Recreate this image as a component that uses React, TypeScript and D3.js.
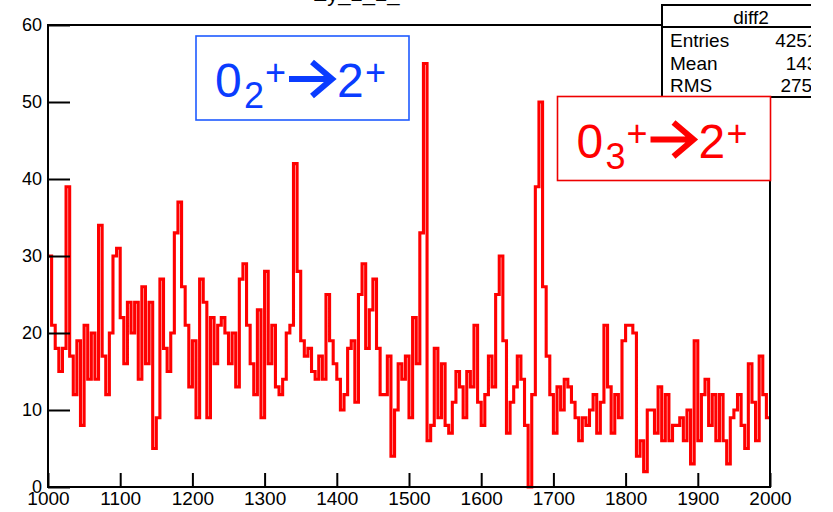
import { useEffect, useRef } from "react";
import * as d3 from "d3";

// histogram range, 5 keV bins
const xMin = 1000;
const xMax = 2000;
const binWidth = 5;
const yMax = 60;

// bin contents, one array per 100 keV
const counts1000 = [30, 21, 18, 15, 18, 39, 17, 12, 19, 8, 21, 14, 20, 14, 34, 17, 12, 20, 30, 31];
const counts1100 = [22, 16, 24, 20, 24, 14, 26, 16, 24, 5, 9, 27, 18, 15, 20, 33, 37, 26, 21, 13];
const counts1200 = [19, 9, 27, 24, 9, 22, 16, 21, 22, 20, 16, 20, 13, 27, 29, 21, 16, 12, 23, 9];
const counts1300 = [28, 16, 21, 13, 12, 14, 20, 21, 42, 28, 19, 17, 18, 15, 14, 17, 14, 25, 19, 16];
const counts1400 = [14, 10, 12, 18, 19, 11, 25, 29, 18, 23, 27, 18, 12, 12, 17, 4, 10, 16, 14, 17];
const counts1500 = [9, 22, 16, 33, 55, 6, 8, 18, 9, 16, 8, 7, 11, 15, 13, 9, 15, 13, 21, 11];
const counts1600 = [8, 12, 17, 13, 25, 30, 19, 7, 11, 13, 17, 14, 8, 0, 12, 39, 50, 26, 17, 12];
const counts1700 = [7, 13, 10, 14, 13, 11, 9, 6, 9, 8, 10, 12, 7, 11, 21, 13, 7, 12, 9, 19];
const counts1800 = [21, 21, 20, 4, 6, 2, 10, 10, 7, 13, 6, 12, 6, 8, 8, 9, 6, 10, 3, 19];
const counts1900 = [6, 12, 14, 8, 12, 6, 12, 6, 3, 9, 10, 12, 8, 5, 16, 11, 6, 17, 12, 9];

const binCounts = [
  ...counts1000, ...counts1100, ...counts1200, ...counts1300, ...counts1400,
  ...counts1500, ...counts1600, ...counts1700, ...counts1800, ...counts1900,
];

const xMajorTicks = [1000, 1100, 1200, 1300, 1400, 1500, 1600, 1700, 1800, 1900, 2000];
const yMajorTicks = [0, 10, 20, 30, 40, 50, 60];

const histTitle = "Ey_2_2_";
const statsTitle = "diff2";
const statsLabels = ["Entries", "Mean", "RMS"];
const statsValues = ["42516", "1437", "275.6"];

const W = 833;
const H = 512;
const FONT = "'Liberation Sans', Arial, Helvetica, sans-serif";

function Histogram() {
  const ref = useRef<SVGSVGElement>(null);

  useEffect(() => {
    const svg = d3.select(ref.current);
    svg.selectAll("*").remove();

    const x = d3.scaleLinear().domain([xMin, xMax]).range([48, 770]);
    const y = d3.scaleLinear().domain([0, yMax]).range([487, 25]);

    svg.append("rect").attr("width", W).attr("height", H).attr("fill", "#fff");

    // title, mostly above the top edge of the picture
    svg.append("text")
      .attr("x", 356).attr("y", 1)
      .attr("text-anchor", "middle")
      .style("font-family", FONT).style("font-size", "22px")
      .text(histTitle);

    // histogram outline
    const pts: [number, number][] = [];
    binCounts.forEach((c, i) => {
      const lo = xMin + i * binWidth;
      pts.push([lo, c], [lo + binWidth, c]);
    });
    const line = d3.line<[number, number]>().x(d => x(d[0])).y(d => y(d[1]));
    svg.append("path")
      .attr("d", line(pts))
      .attr("fill", "none")
      .attr("stroke", "#ff0000")
      .attr("stroke-width", 3.1)
      .attr("stroke-linejoin", "miter");

    // axes, ticks pointing inwards like ROOT
    const xMinor = d3.range(xMin, xMax + 1, 20);
    const yMinor = d3.range(0, yMax + 1, 2);

    const gx = svg.append("g").attr("transform", "translate(0,487)");
    gx.call(d3.axisBottom(x).tickValues(xMinor).tickSize(-7).tickFormat(() => ""));
    gx.call(d3.axisBottom(x).tickValues(xMajorTicks).tickSize(-14).tickPadding(5).tickFormat(d3.format("d")));

    const gy = svg.append("g").attr("transform", "translate(48,0)");
    gy.call(d3.axisLeft(y).tickValues(yMinor).tickSize(-11).tickFormat(() => ""));
    gy.call(d3.axisLeft(y).tickValues(yMajorTicks).tickSize(-22).tickPadding(6).tickFormat(d3.format("d")));

    svg.selectAll(".domain").remove();
    svg.selectAll(".tick line").attr("stroke", "#000").attr("stroke-width", 2);
    svg.selectAll(".tick text")
      .attr("fill", "#000")
      .style("font-family", FONT)
      .style("font-size", "18px");
    gx.selectAll(".tick text").style("font-size", "19px");

    // frame
    svg.append("rect")
      .attr("x", 48).attr("y", 25)
      .attr("width", 722).attr("height", 462)
      .attr("fill", "none").attr("stroke", "#000").attr("stroke-width", 2);

    // stats box, cropped on the right
    svg.append("clipPath").attr("id", "statsClip")
      .append("rect").attr("x", 0).attr("y", 0).attr("width", 811).attr("height", H);
    const stats = svg.append("g").attr("clip-path", "url(#statsClip)");
    stats.append("rect")
      .attr("x", 662).attr("y", 5).attr("width", 180).attr("height", 92)
      .attr("fill", "#fff").attr("stroke", "#000").attr("stroke-width", 2);
    stats.append("line")
      .attr("x1", 662).attr("x2", 842).attr("y1", 27).attr("y2", 27)
      .attr("stroke", "#000").attr("stroke-width", 2);
    stats.append("text")
      .attr("x", 751).attr("y", 24).attr("text-anchor", "middle")
      .style("font-family", FONT).style("font-size", "19px")
      .text(statsTitle);
    statsLabels.forEach((lab, i) => {
      const by = 47 + i * 22.5;
      stats.append("text").attr("x", 670).attr("y", by)
        .style("font-family", FONT).style("font-size", "19px").text(lab);
      stats.append("text").attr("x", 828).attr("y", by).attr("text-anchor", "end")
        .style("font-family", FONT).style("font-size", "19px").text(statsValues[i]);
    });

    // transition labels
    const drawLabel = (bx: number, by: number, color: string, border: string, sub: string) => {
      const g = svg.append("g");
      g.append("rect")
        .attr("x", bx).attr("y", by).attr("width", 213).attr("height", 84)
        .attr("fill", "#fff").attr("stroke", border).attr("stroke-width", 1.6);
      const base = by + 61;
      const t = (tx: number, ty: number, size: number, s: string) =>
        g.append("text").attr("x", tx).attr("y", ty)
          .attr("fill", color)
          .style("font-family", FONT).style("font-size", size + "px")
          .text(s);
      t(bx + 19, base, 48, "0");
      t(bx + 48, base + 11, 36, sub);
      t(bx + 69, base - 12, 36, "+");
      const ax0 = bx + 93, ax1 = bx + 136, ay = base - 18;
      g.append("path")
        .attr("d", `M${ax0},${ay}H${ax1 - 3}M${ax1 - 20},${ay - 17}L${ax1},${ay}L${ax1 - 20},${ay + 17}`)
        .attr("fill", "none").attr("stroke", color)
        .attr("stroke-width", 6).attr("stroke-linejoin", "miter");
      t(bx + 141, base, 48, "2");
      t(bx + 169, base - 12, 36, "+");
    };
    drawLabel(196, 36, "#0a3cff", "#1f5bff", "2");
    drawLabel(557.5, 96.5, "#ff0000", "#ee0000", "3");
  }, []);

  return (
    <svg
      ref={ref}
      width={W}
      height={H}
      style={{ position: "absolute", left: 0, top: 0, display: "block" }}
    />
  );
}

export default function App() {
  return <Histogram />;
}
